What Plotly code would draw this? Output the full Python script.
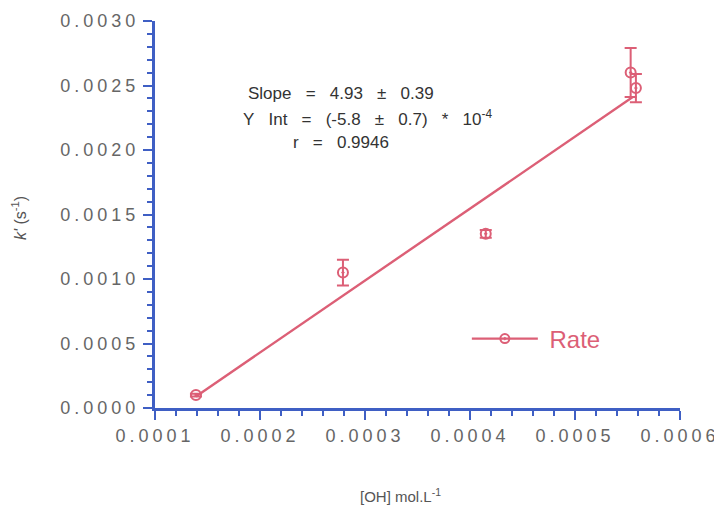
import plotly.graph_objects as go

# data
conc = [0.000139, 0.000279, 0.000415, 0.000553, 0.000558]
rate = [0.00010, 0.00105, 0.00135, 0.00260, 0.00248]
rate_err = [0.00001, 0.00010, 0.00003, 0.00019, 0.00011]
fit_x = [0.000139, 0.000555]
fit_y = [0.00009, 0.00241]

x_ticks = [0.0001, 0.0002, 0.0003, 0.0004, 0.0005, 0.0006]
y_ticks = [0.0000, 0.0005, 0.0010, 0.0015, 0.0020, 0.0025, 0.0030]

RED = "#dc5f76"
BLUE = "#3f5fc4"
TXT = "#555555"
FONT = "Liberation Sans"

# page renders with an 8px body offset
OFF = 8
L, T, R, B = 155, 21, 680, 408  # target plot-area edges in screenshot pixels
W, H = 722 - OFF, 506 - OFF


def px_x(p):
    return (p - L) / (R - L)


def px_y(p):
    return (B - p) / (B - T)


def spaced(s):
    return f'<span style="letter-spacing:4px">{s}</span>'


fig = go.Figure()
fig.add_trace(go.Scatter(x=fit_x, y=fit_y, mode="lines",
                         line=dict(color=RED, width=2.4), showlegend=False,
                         hoverinfo="skip"))
fig.add_trace(go.Scatter(x=conc, y=rate, mode="markers", name="Rate",
                         marker=dict(symbol="circle-open-dot", size=10, color=RED,
                                     line=dict(width=2, color=RED)),
                         error_y=dict(type="data", array=rate_err, color=RED,
                                      thickness=2, width=6),
                         showlegend=False))
# legend entry
fig.add_trace(go.Scatter(x=[None], y=[None], mode="lines+markers", name="\u00a0Rate",
                         line=dict(color=RED, width=2.2),
                         marker=dict(symbol="circle-open-dot", size=9, color=RED,
                                     line=dict(width=2, color=RED))))

axis_common = dict(showline=True, linecolor=BLUE, linewidth=3, ticks="outside",
                   tickcolor=BLUE, tickwidth=2, ticklen=9, showgrid=False,
                   zeroline=False, automargin=False,
                   tickfont=dict(family=FONT, size=18, color="#666666"),
                   minor=dict(ticks="outside", ticklen=5, tickcolor=BLUE, tickwidth=2))

fig.update_xaxes(range=[0.0001, 0.0006], tickvals=x_ticks,
                 ticktext=[spaced(f"{v:.4f}") for v in x_ticks],
                 minor_dtick=0.00002, **axis_common)
fig.update_yaxes(range=[0, 0.003], tickvals=y_ticks,
                 ticktext=[spaced(f"{v:.4f}") for v in y_ticks],
                 minor_dtick=0.0001, **axis_common)

# axis titles
fig.add_annotation(x=px_x(400), y=px_y(495), xref="paper", yref="paper",
                   xanchor="center", yanchor="middle",
                   text="[OH] mol.L<sup>-1</sup>", showarrow=False,
                   font=dict(family=FONT, size=15, color=TXT))
fig.add_annotation(x=px_x(19), y=px_y(218), xref="paper", yref="paper",
                   xanchor="center", yanchor="middle",
                   text="<i>k'</i> (s<sup>-1</sup>)", showarrow=False, textangle=-90,
                   font=dict(family=FONT, size=16, color=TXT))

ann_font = dict(family=FONT, size=17, color="#333333")
S = "\u00a0" * 3
fig.add_annotation(x=px_x(341), y=px_y(93), xref="paper", yref="paper",
                   xanchor="center", yanchor="middle",
                   text=f"Slope{S}={S}4.93{S}±{S}0.39",
                   showarrow=False, font=ann_font)
fig.add_annotation(x=px_x(367), y=px_y(118), xref="paper", yref="paper",
                   xanchor="center", yanchor="middle",
                   text=f"Y{S}Int{S}={S}(-5.8{S}±{S}0.7){S}*{S}10<sup>-4</sup>",
                   showarrow=False, font=ann_font)
fig.add_annotation(x=px_x(341), y=px_y(142), xref="paper", yref="paper",
                   xanchor="center", yanchor="middle",
                   text=f"r{S}={S}0.9946",
                   showarrow=False, font=ann_font)

fig.update_layout(
    width=W, height=H,
    margin=dict(l=L - OFF, r=722 - R, t=T - OFF, b=506 - B),
    plot_bgcolor="white", paper_bgcolor="white",
    legend=dict(x=0.594, y=px_y(339), xanchor="left", yanchor="middle",
                bgcolor="rgba(0,0,0,0)", itemwidth=66,
                font=dict(family=FONT, size=24, color=RED)),
)

fig.write_html("out.html")
